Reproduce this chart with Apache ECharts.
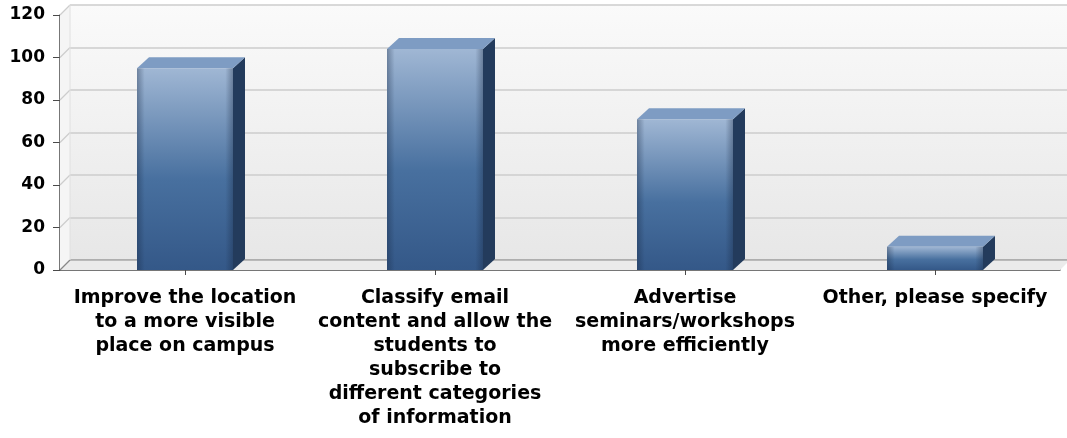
<!DOCTYPE html>
<html>
<head>
<meta charset="utf-8">
<script src="https://cdn.jsdelivr.net/npm/echarts@6/dist/echarts.min.js"></script>
<style>
html,body{margin:0;padding:0;background:#fff;}
#chart{width:1067px;height:438px;}
</style>
</head>
<body>
<div id="chart"></div>
<script>
const categories = [
  "Improve the location\nto a more visible\nplace on campus",
  "Classify email\ncontent and allow the\nstudents to\nsubscribe to\ndifferent categories\nof information",
  "Advertise\nseminars/workshops\nmore efficiently",
  "Other, please specify"
];
const values = [95, 104, 71, 11];
const yTicks = [0, 20, 40, 60, 80, 100, 120];

const WALL_D = 10;   // wall depth (px)
const BAR_DX = 12, BAR_DY = 11;
const FONT = "DejaVu Sans";

const chart = echarts.init(document.getElementById('chart'), null, {renderer: 'canvas'});

const option = {
  animation: false,
  backgroundColor: '#ffffff',
  grid: [
    {left: 60, top: 15, right: 7, bottom: 168, containLabel: false},
    {left: 60 + WALL_D, top: 15 - WALL_D, right: 0, bottom: 168 + WALL_D, containLabel: false,
     show: true, borderWidth: 0,
     backgroundColor: new echarts.graphic.LinearGradient(0, 0, 0, 1, [
       {offset: 0, color: '#fafafa'}, {offset: 1, color: '#e7e7e7'}
     ])}
  ],
  xAxis: [
    {type: 'category', gridIndex: 0, data: categories,
     axisLine: {show: true, lineStyle: {color: '#4a4a4a', width: 1.5}},
     axisTick: {show: true, alignWithLabel: true, length: 5, lineStyle: {color: '#4a4a4a'}},
     axisLabel: {interval: 0, margin: 16, color: '#000', fontFamily: FONT, fontWeight: 'bold',
                 fontSize: 19, lineHeight: 24, align: 'center'}},
    {type: 'category', gridIndex: 1, data: categories, show: false}
  ],
  yAxis: [
    {type: 'value', gridIndex: 0, min: 0, max: 120, interval: 20,
     axisLine: {show: true, lineStyle: {color: '#4a4a4a', width: 1.5}},
     axisTick: {show: true, length: 7, lineStyle: {color: '#4a4a4a'}},
     splitLine: {show: false},
     axisLabel: {margin: 15, color: '#000', fontFamily: FONT, fontWeight: 'bold', fontSize: 17,
                 formatter: v => yTicks.indexOf(v) >= 0 ? String(v) : ''}},
    {type: 'value', gridIndex: 1, min: 0, max: 120, interval: 20,
     axisLine: {show: false}, axisTick: {show: false}, axisLabel: {show: false},
     splitLine: {show: true, lineStyle: {color: '#cdcdcd', width: 1.5}}}
  ],
  series: [
    {
      type: 'custom', xAxisIndex: 0, yAxisIndex: 0, z: 1, silent: true,
      data: [[0, 0]],
      renderItem: function (params, api) {
        const cs = params.coordSys;
        const x0 = cs.x, x1 = cs.x + cs.width, yb = cs.y + cs.height, yt = cs.y;
        const d = WALL_D;
        const children = [];
        children.push({type: 'polygon', shape: {points: [[x0, yb], [x0, yt], [x0 + d, yt - d], [x0 + d, yb - d]]},
                       style: {fill: '#f5f5f5'}});
        children.push({type: 'polygon', shape: {points: [[x0, yb], [x0 + d, yb - d], [x1 + d, yb - d], [x1, yb]]},
                       style: {fill: '#ebebeb'}});
        yTicks.forEach(function (t) {
          const y = api.coord([0, t])[1];
          children.push({type: 'line', shape: {x1: x0, y1: y, x2: x0 + d, y2: y - d},
                         style: {stroke: t === 0 ? '#888' : '#cdcdcd', lineWidth: 1.2}});
        });
        children.push({type: 'line', shape: {x1: x0 + d, y1: yb - d, x2: x1 + d, y2: yb - d},
                       style: {stroke: '#8a8a8a', lineWidth: 1.2}});
        children.push({type: 'line', shape: {x1: x0 + d, y1: yt - d, x2: x0 + d, y2: yb - d},
                       style: {stroke: '#e0e0e0', lineWidth: 1}});
        return {type: 'group', children: children};
      }
    },
    {
      type: 'custom', xAxisIndex: 0, yAxisIndex: 0, z: 5, silent: true,
      data: values.map((v, i) => [i, v]),
      renderItem: function (params, api) {
        const ci = api.value(0), v = api.value(1);
        const top = api.coord([ci, v]);
        const base = api.coord([ci, 0]);
        const bw = api.size([1, 0])[0] * 0.384;
        const l = top[0] - bw / 2, r = top[0] + bw / 2, t = top[1], b = base[1];
        return {type: 'group', children: [
          {type: 'polygon', shape: {points: [[r, t], [r + BAR_DX, t - BAR_DY], [r + BAR_DX, b - BAR_DY], [r, b]]},
           style: {fill: '#233b5c'}},
          {type: 'polygon', shape: {points: [[l, t], [l + BAR_DX, t - BAR_DY], [r + BAR_DX, t - BAR_DY], [r, t]]},
           style: {fill: '#7e9cc3'}},
          {type: 'rect', shape: {x: l, y: t, width: bw, height: b - t},
           style: {fill: new echarts.graphic.LinearGradient(0, 0, 0, 1, [
             {offset: 0, color: '#a0b7d4'}, {offset: 0.55, color: '#48709f'}, {offset: 1, color: '#345888'}
           ])}},
          {type: 'rect', shape: {x: l, y: t, width: bw, height: b - t},
           style: {fill: new echarts.graphic.LinearGradient(0, 0, 1, 0, [
             {offset: 0, color: 'rgba(20,35,60,0.35)'}, {offset: 0.08, color: 'rgba(20,35,60,0)'},
             {offset: 0.92, color: 'rgba(20,35,60,0)'}, {offset: 1, color: 'rgba(20,35,60,0.35)'}
           ])}}
        ]};
      }
    }
  ]
};
chart.setOption(option);
</script>
</body>
</html>
